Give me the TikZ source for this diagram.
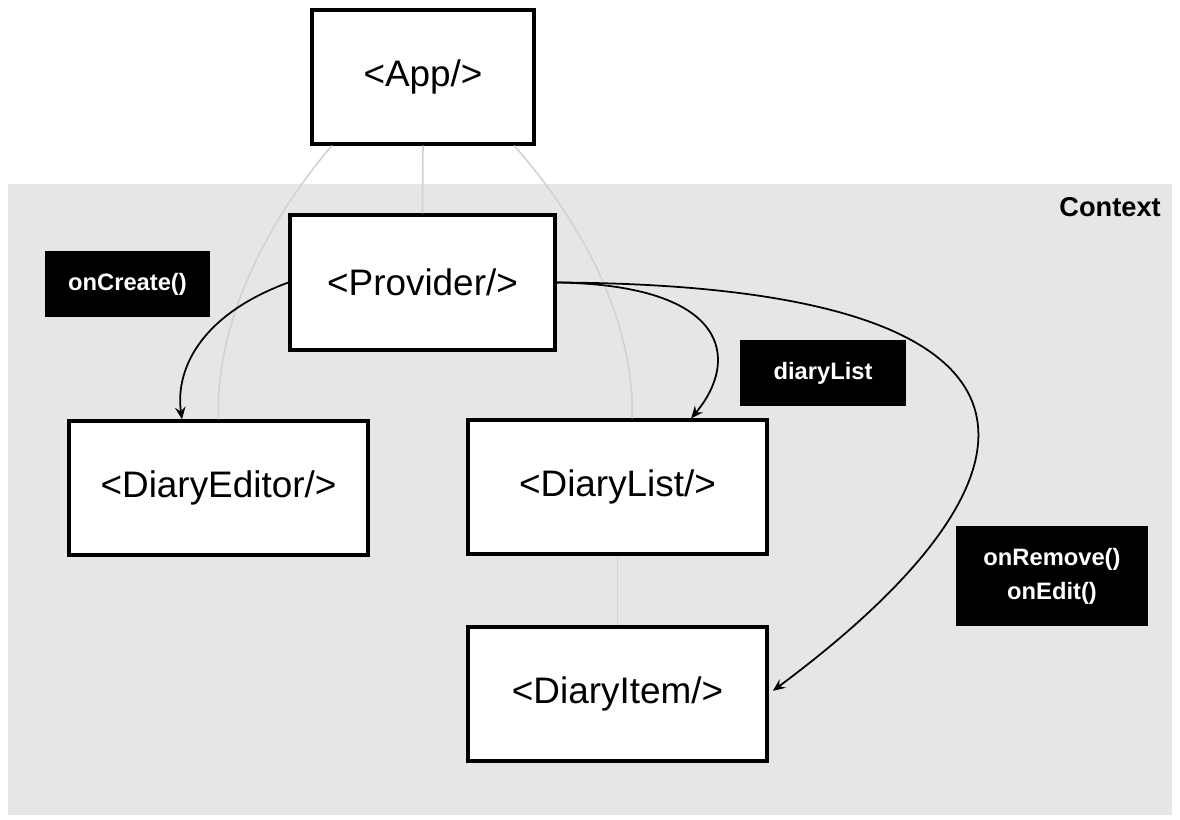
\documentclass[tikz,border=0pt]{standalone}
\usepackage{fontspec}
\setmainfont{Liberation Sans}
\usetikzlibrary{arrows.meta}
\definecolor{ctxgray}{HTML}{E6E6E6}
\definecolor{treegray}{HTML}{D2D2D2}

\begin{document}
\begin{tikzpicture}[x=0.02cm, y=-0.02cm,
    comp/.style={draw, line width=1.9pt, fill=white, inner sep=0pt,
      minimum width=5.98cm, minimum height=2.68cm,
      font=\fontsize{21}{25}\selectfont},
    prop/.style={fill=black, text=white, inner sep=0pt, align=center,
      minimum height=1.32cm, font=\bfseries\fontsize{13.5}{19.5}\selectfont},
    tree/.style={treegray, line width=0.9pt},
    pass/.style={line width=1pt, -{Stealth[length=7pt, width=6pt, inset=2.5pt]}}]

      \useasboundingbox (0,0) rectangle (1180,820);
      \fill [ctxgray] (8,184) rectangle (1172,815);
      \node [anchor=east, font=\bfseries\fontsize{15.5}{18}\selectfont] (ctx) at (1167,207) {Context};

      \node [comp, minimum width=4.44cm] (app) at (423,77) {<App/>};
      \node [comp, minimum width=5.3cm, minimum height=2.7cm] (provider) at (422.5,282.5) {<Provider/>};
      \node [comp] (editor) at (218.5,488) {<DiaryEditor/>};
      \node [comp] (list) at (617.5,487) {<DiaryList/>};
      \node [comp] (item) at (617.5,694) {<DiaryItem/>};

      \node [prop, minimum width=3.3cm] (create) at (127.5,284) {onCreate()};
      \node [prop, minimum width=3.32cm] (listprop) at (823,373) {diaryList};
      \node [prop, minimum width=3.84cm, minimum height=2cm] (remove) at (1052,576) {onRemove()\\onEdit()};

      \draw[tree] (app.south) -- (provider.north);
      \draw[tree] (app.217) .. controls (260,230) and (215,330) .. (editor.north);
      \draw[tree] (app.-37) .. controls (580,220) and (635,320) .. (list.78);
      \draw[tree] (list.south) -- (item.north);

      \draw[pass] (provider.west) .. controls (200,315) and (175,370) .. (editor.118);
      \draw[pass] (provider.east) .. controls (730,285) and (740,360) .. (list.43);
      \draw[pass, shorten >=3pt] (provider.east) .. controls (1080,285) and (1070,470) .. (item.east);

    \end{tikzpicture}
\end{document}
